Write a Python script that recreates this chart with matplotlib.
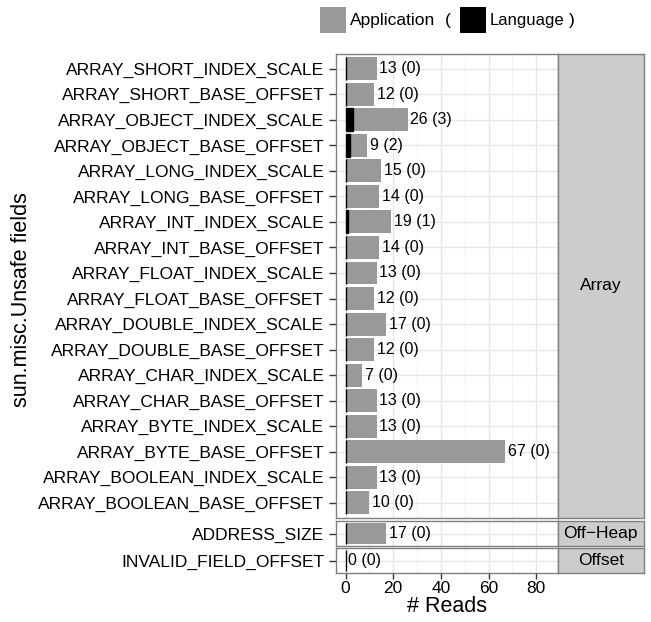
import matplotlib
matplotlib.use("Agg")
import matplotlib.pyplot as plt
from matplotlib.patches import Rectangle

plt.rcParams['font.family'] = ['Liberation Sans', 'DejaVu Sans']

# data, top to bottom inside each group
array_fields = ["ARRAY_SHORT_INDEX_SCALE", "ARRAY_SHORT_BASE_OFFSET",
                "ARRAY_OBJECT_INDEX_SCALE", "ARRAY_OBJECT_BASE_OFFSET",
                "ARRAY_LONG_INDEX_SCALE", "ARRAY_LONG_BASE_OFFSET",
                "ARRAY_INT_INDEX_SCALE", "ARRAY_INT_BASE_OFFSET",
                "ARRAY_FLOAT_INDEX_SCALE", "ARRAY_FLOAT_BASE_OFFSET",
                "ARRAY_DOUBLE_INDEX_SCALE", "ARRAY_DOUBLE_BASE_OFFSET",
                "ARRAY_CHAR_INDEX_SCALE", "ARRAY_CHAR_BASE_OFFSET",
                "ARRAY_BYTE_INDEX_SCALE", "ARRAY_BYTE_BASE_OFFSET",
                "ARRAY_BOOLEAN_INDEX_SCALE", "ARRAY_BOOLEAN_BASE_OFFSET"]
array_app = [13, 12, 26, 9, 15, 14, 19, 14, 13, 12, 17, 12, 7, 13, 13, 67, 13, 10]
array_lang = [0, 0, 3, 2, 0, 0, 1, 0, 0, 0, 0, 0, 0, 0, 0, 0, 0, 0]

offheap_fields = ["ADDRESS_SIZE"]
offheap_app = [17]
offheap_lang = [0]

offset_fields = ["INVALID_FIELD_OFFSET"]
offset_app = [0]
offset_lang = [0]

groups = [("Array", array_fields, array_app, array_lang),
          ("Off\u2212Heap", offheap_fields, offheap_app, offheap_lang),
          ("Offset", offset_fields, offset_app, offset_lang)]

W, H = 651, 622
fig = plt.figure(figsize=(W / 100, H / 100), dpi=100)

# panel boxes in pixels (top, bottom)
panel_px = [(53.5, 518), (521, 546), (548, 573)]
x_left, x_right, strip_right = 335.5, 557.7, 644

def fx(px):
    return px / W

def fy(py):
    return 1 - py / H

grey = "#999999"
border = "#7f7f7f"

axes = []
for (name, fields, app, lang), (top, bot) in zip(groups, panel_px):
    ax = fig.add_axes([fx(x_left), fy(bot), fx(x_right - x_left), (bot - top) / H])
    n = len(fields)
    ypos = list(range(n - 1, -1, -1))
    ax.barh(ypos, app, height=0.9, color=grey, zorder=2)
    ax.barh(ypos, lang, height=0.9, color="black", edgecolor="black", lw=1.0, zorder=3)
    for y, a, l in zip(ypos, app, lang):
        ax.annotate("%d (%d)" % (a, l), (a, y), xytext=(2, 0), textcoords="offset points",
                    va="center", ha="left", fontsize=11.5, zorder=4)
    ax.set_xlim(-4.2, 89.0)
    if n > 1:
        ax.set_ylim(-0.6, n - 0.4)
    else:
        ax.set_ylim(-0.55, 0.55)
    ax.set_yticks(ypos)
    ax.set_yticklabels(fields, fontsize=12.5)
    ax.set_xticks([0, 20, 40, 60, 80])
    ax.set_xticks([10, 30, 50, 70], minor=True)
    ax.grid(True, which="major", color="#e6e6e6", lw=1.0, zorder=0)
    ax.grid(True, which="minor", axis="x", color="#f3f3f3", lw=0.8, zorder=0)
    ax.set_axisbelow(True)
    for s in ax.spines.values():
        s.set_color(border)
        s.set_linewidth(1.0)
    ax.tick_params(axis="y", length=5, width=1, color="#333333", pad=3)
    ax.tick_params(axis="x", which="major", length=4, width=1, color="#333333", labelsize=12.5, pad=2)
    ax.tick_params(axis="x", which="minor", length=0)
    ax.set_facecolor("white")
    axes.append(ax)

    # facet strip
    sax = fig.add_axes([fx(x_right), fy(bot), fx(strip_right - x_right), (bot - top) / H])
    sax.set_xticks([])
    sax.set_yticks([])
    sax.set_facecolor("#cccccc")
    for s in sax.spines.values():
        s.set_color(border)
        s.set_linewidth(1.0)
    sax.text(0.5, 0.5, name, ha="center", va="center", fontsize=12.5, transform=sax.transAxes)

for ax in axes[:-1]:
    ax.tick_params(axis="x", labelbottom=False, length=0)

axes[-1].set_xlabel("# Reads", fontsize=15.5, labelpad=0)
fig.text(fx(22), fy(300), "sun.misc.Unsafe fields", rotation=90, ha="center", va="center", fontsize=15.5)

# legend at the top
fig.patches.append(Rectangle((fx(320), fy(33)), fx(26), 26 / H, transform=fig.transFigure,
                             facecolor=grey, edgecolor="none"))
fig.text(fx(350), fy(20), "Application", ha="left", va="center", fontsize=12.5)
fig.text(fx(445), fy(20), "(", ha="left", va="center", fontsize=12.5)
fig.patches.append(Rectangle((fx(460), fy(33)), fx(26), 26 / H, transform=fig.transFigure,
                             facecolor="black", edgecolor="none"))
fig.text(fx(490), fy(20), "Language", ha="left", va="center", fontsize=12)
fig.text(fx(569), fy(20), ")", ha="left", va="center", fontsize=12.5)

fig.savefig("out.png", dpi=100)
